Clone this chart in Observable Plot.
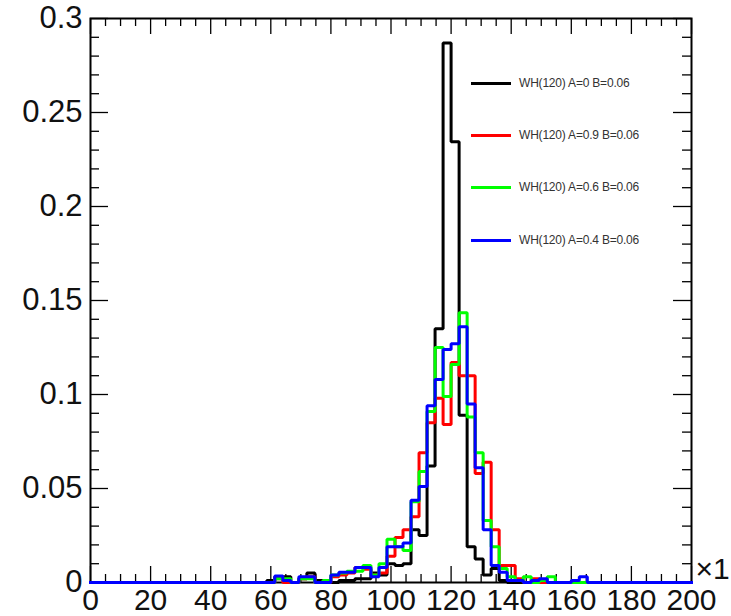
<!DOCTYPE html>
<html><head><meta charset="utf-8">
<script src="https://cdn.jsdelivr.net/npm/d3@7"></script>
<script src="https://cdn.jsdelivr.net/npm/@observablehq/plot@0.6"></script>
<style>
body{margin:0;background:#fff;overflow:hidden}
#wrap{position:relative;width:731px;height:616px}
#legend{position:absolute;left:0;top:0;width:731px;height:616px;pointer-events:none;font-family:"Liberation Sans",Arial,sans-serif}
.item{position:absolute;left:471px;height:20px;display:flex;align-items:center}
.swatch{width:40px;height:3px;margin-right:8px}
.lab{font-size:12px;color:#333;white-space:nowrap;letter-spacing:-0.2px}
</style></head><body><div id="wrap"><div id="legend"></div></div>
<script>
// histogram binning (75 bins over 0..200)
const xMin = 0, xMax = 200, nBins = 75;
const firstBin = 20; // arrays below start at this bin index; other bins are empty

const seriesLabels = ["WH(120) A=0 B=0.06", "WH(120) A=0.9 B=0.06", "WH(120) A=0.6 B=0.06", "WH(120) A=0.4 B=0.06"];
const seriesColors = ["#000000", "#ff0000", "#00ff00", "#0000ff"];

// bins 20..62
const valsA0 = [0,0,0.001,0.003,0.003,0,0.002,0.005,0.001,0,0,0.001,0.001,0.002,0.002,0.005,0.004,0.010,0.009,0.010,
  0.028,0.025,0.062,0.135,0.287,0.2345,0.089,0.019,0.0125,0.004,0.0075,0.001,0,0,0,0,0,0,0,0,0,0,0];
const valsA09 = [0,0,0,0.002,0,0,0.002,0.003,0,0,0.003,0.004,0.005,0.008,0.007,0.004,0.005,0.014,0.024,0.028,
  0.035,0.069,0.085,0.098,0.084,0.117,0.110,0.110,0.058,0.064,0.028,0.009,0.009,0.002,0,0.002,0,0,0,0,0,0,0];
const valsA06 = [0,0,0,0.002,0.002,0,0.002,0.002,0,0.001,0.004,0.005,0.006,0.006,0.009,0.004,0.010,0.023,0.019,0.017,
  0.043,0.059,0.091,0.125,0.099,0.116,0.1435,0.088,0.069,0.033,0.019,0.0075,0.003,0.001,0.003,0,0.001,0.003,0,0,0,0,0];
const valsA04 = [0,0,0,0.0035,0.001,0,0.003,0.003,0,0,0.004,0.0055,0.0055,0.008,0.008,0.003,0.008,0.019,0.019,0.021,
  0.0437,0.051,0.094,0.108,0.124,0.127,0.136,0.095,0.061,0.028,0.009,0.0055,0.001,0.001,0,0.001,0.002,0,0,0,0.001,0.003,0];
const seriesValues = [valsA0, valsA09, valsA06, valsA04];

const xTickValues = [0,20,40,60,80,100,120,140,160,180,200];
const xTickLabels = ["0","20","40","60","80","100","120","140","160","180","200"];
const yTickValues = [0,0.05,0.1,0.15,0.2,0.25,0.3];
const yTickLabels = ["0","0.05","0.1","0.15","0.2","0.25","0.3"];
const exponentLabel = "×1";

const W = 731, H = 616, mL = 90, mR = 40, mT = 18, mB = 34;
const frameW = W - mL - mR, frameH = H - mT - mB;
const binW = (xMax - xMin) / nBins;

function rowsFor(vals) {
  const rows = [];
  for (let k = 0; k < nBins; k++) {
    const i = k - firstBin;
    const v = (i >= 0 && i < vals.length) ? vals[i] : 0;
    rows.push({x: xMin + k * binW, y: v});
  }
  rows.push({x: xMax, y: rows[rows.length - 1].y});
  return rows;
}

const xMajor = xTickValues;
const xMinor = d3.range(xMin, xMax + 0.001, 5).filter(v => v % 20 !== 0);
const yMajor = yTickValues;
const yMinor = d3.range(0, 0.3001, 0.01).map(v => +v.toFixed(2)).filter(v => Math.round(v * 100) % 5 !== 0);
const xLab = new Map(xTickValues.map((v, i) => [v, xTickLabels[i]]));
const yLab = new Map(yTickValues.map((v, i) => [v, yTickLabels[i]]));

const tickStyle = {stroke: "black", strokeWidth: 1.3};
const marks = [];
// ticks (inside frame, ROOT style)
marks.push(Plot.tickX(xMajor, {x: d => d, insetTop: frameH - 16, ...tickStyle}));
marks.push(Plot.tickX(xMinor, {x: d => d, insetTop: frameH - 8, ...tickStyle}));
marks.push(Plot.tickX(xMajor, {x: d => d, insetBottom: frameH - 16, ...tickStyle}));
marks.push(Plot.tickX(xMinor, {x: d => d, insetBottom: frameH - 8, ...tickStyle}));
marks.push(Plot.tickY(yMajor, {y: d => d, insetRight: frameW - 18, ...tickStyle}));
marks.push(Plot.tickY(yMinor, {y: d => d, insetRight: frameW - 9, ...tickStyle}));
marks.push(Plot.tickY(yMajor, {y: d => d, insetLeft: frameW - 18, ...tickStyle}));
marks.push(Plot.tickY(yMinor, {y: d => d, insetLeft: frameW - 9, ...tickStyle}));
marks.push(Plot.frame({stroke: "black", strokeWidth: 2}));
seriesValues.forEach((vals, si) => {
  marks.push(Plot.line(rowsFor(vals), {x: "x", y: "y", curve: "step-after", stroke: seriesColors[si], strokeWidth: 3, strokeLinejoin: "miter", strokeLinecap: "square"}));
});
marks.push(Plot.axisX(xTickValues, {anchor: "bottom", label: null, tickSize: 0, tickPadding: 6, fontSize: 30, tickFormat: d => xLab.get(d), fill: "#111"}));
marks.push(Plot.axisY(yTickValues, {anchor: "left", label: null, tickSize: 0, tickPadding: 8, fontSize: 31, tickFormat: d => yLab.get(d), fill: "#111"}));
marks.push(Plot.text([exponentLabel], {text: d => d, frameAnchor: "bottom-right", dx: 4, dy: -13, textAnchor: "start", lineAnchor: "middle", fontSize: 30, fill: "#111"}));

const chart = Plot.plot({
  width: W, height: H,
  marginLeft: mL, marginRight: mR, marginTop: mT, marginBottom: mB,
  style: {fontFamily: "Liberation Sans, Arial, sans-serif", background: "#fff", overflow: "visible"},
  x: {domain: [xMin, xMax], axis: null},
  y: {domain: [0, 0.3], axis: null},
  marks
});
document.getElementById("wrap").prepend(chart);

// legend
const legend = document.getElementById("legend");
const legendTops = [73, 125, 177, 230];
seriesLabels.forEach((lab, i) => {
  const it = document.createElement("div");
  it.className = "item";
  it.style.top = legendTops[i] + "px";
  it.innerHTML = `<div class="swatch" style="background:${seriesColors[i]}"></div><span class="lab">${lab}</span>`;
  legend.appendChild(it);
});
</script></body></html>
